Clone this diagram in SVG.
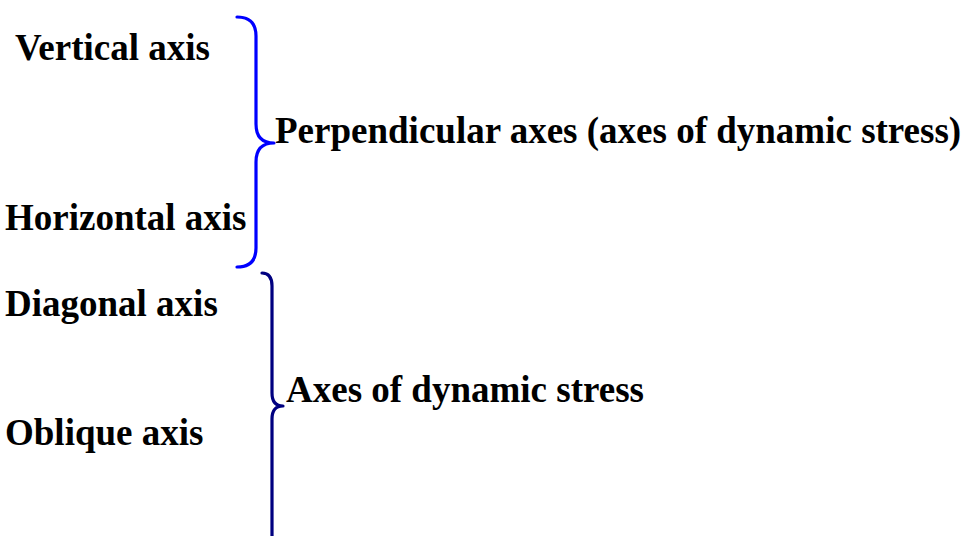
<svg xmlns="http://www.w3.org/2000/svg" width="970" height="536" viewBox="0 0 970 536">
<style>
text{font-family:"Liberation Serif","Times New Roman",serif;font-weight:bold;font-size:37px;fill:#000}
.brace{fill:none;stroke-width:3.2;stroke-linecap:round;stroke-linejoin:round}
</style>
<rect width="970" height="536" fill="#fff"/>
<g id="vertical"><text x="15" y="60">Vertical axis</text></g>
<g id="horizontal"><text x="5" y="230">Horizontal axis</text></g>
<g id="perpendicular"><text x="275" y="143">Perpendicular axes (axes of dynamic stress)</text></g>
<g id="diagonal"><text x="5" y="316">Diagonal axis</text></g>
<g id="oblique"><text x="5" y="445">Oblique axis</text></g>
<g id="dynamic"><text x="286" y="402">Axes of dynamic stress</text></g>
<g id="connectors">
<path class="brace" stroke="#0000ff" d="M237,17 Q256,17 256,36 L256,124 Q256,143 274,143 Q256,143 256,162 L256,248 Q256,267 237,267"/>
<path class="brace" stroke="#000080" d="M262,273 Q272,273 272,286 L272,393 Q272,406 283,406 Q272,406 272,419 L272,540"/>
</g>
</svg>
